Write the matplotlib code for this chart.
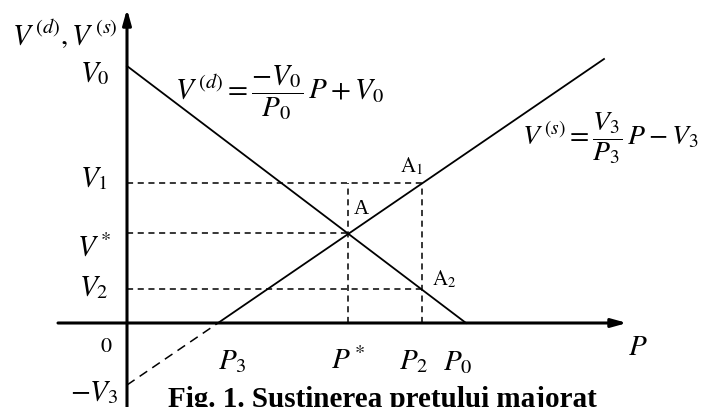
import matplotlib
matplotlib.use("Agg")
import matplotlib.pyplot as plt

plt.rcParams['mathtext.fontset'] = 'stix'
plt.rcParams['font.family'] = ['Liberation Serif', 'DejaVu Serif']

# values (arbitrary units)
P0, V0 = 339, 257          # demand intercepts
P3, V3 = 91, 62            # supply intercepts
P_end, V_end = 477, 264    # end of the supply line
P_star, V_star = 221, 90   # equilibrium A
P2 = 295                   # supported price
V1, V2 = 140, 34           # supply / demand at P2

fig = plt.figure(figsize=(7.05, 4.07), dpi=100)
ax = fig.add_axes([0, 0, 1, 1])
ax.set_xlim(-127, 578)
ax.set_ylim(-84, 323)
ax.axis('off')

# axes with arrows
ax.annotate('', xy=(500, 0), xytext=(-69, 0),
            arrowprops=dict(arrowstyle='-|>,head_length=0.9,head_width=0.25',
                            lw=2.2, color='black', shrinkA=0, shrinkB=0))
ax.annotate('', xy=(0, 314), xytext=(0, -90),
            arrowprops=dict(arrowstyle='-|>,head_length=0.9,head_width=0.25',
                            lw=2.2, color='black', shrinkA=0, shrinkB=0))

# demand and supply
ax.plot([0, P0], [V0, 0], color='black', lw=1.3)
ax.plot([P3, P_end], [0, V_end], color='black', lw=1.3)
ax.plot([0, P3], [-V3, 0], color='black', lw=1.1, dashes=(6, 4))

# guide lines
dash = dict(color='black', lw=1.1, dashes=(4, 3))
ax.plot([0, P2], [V1, V1], **dash)
ax.plot([0, P_star], [V_star, V_star], **dash)
ax.plot([0, P2], [V2, V2], **dash)
ax.plot([P_star, P_star], [0, V1], **dash)
ax.plot([P2, P2], [0, V1], **dash)

fs = 21
ax.text(-9, 289, r'$V^{\,(d)},V^{\,(s)}$', fontsize=fs, ha='right', va='center')
ax.text(-32, 249, r'$V_0$', fontsize=fs, ha='center', va='center')
ax.text(-33, 144, r'$V_1$', fontsize=fs, ha='center', va='center')
ax.text(-33, 75, r'$V^*$', fontsize=fs, ha='center', va='center')
ax.text(-33, 35, r'$V_2$', fontsize=fs, ha='center', va='center')
ax.text(-21, -25, r'$0$', fontsize=16, ha='center', va='center')
ax.text(-33, -70, r'$-V_3$', fontsize=fs, ha='center', va='center')

ax.text(P3 + 14, -39, r'$P_3$', fontsize=fs, ha='center', va='center')
ax.text(P_star, -38, r'$P^*$', fontsize=fs, ha='center', va='center')
ax.text(P2 - 8, -39, r'$P_2$', fontsize=fs, ha='center', va='center')
ax.text(P0 - 8, -40, r'$P_0$', fontsize=fs, ha='center', va='center')
ax.text(511, -25, r'$P$', fontsize=fs, ha='center', va='center')

ax.text(48, 230, r'$V^{\,(d)}=\dfrac{-V_0}{P_0}\,P+V_0$', fontsize=fs,
        ha='left', va='center')
ax.text(395, 185, r'$V^{\,(s)}=\dfrac{V_3}{P_3}\,P-V_3$', fontsize=20,
        ha='left', va='center')

ax.text(P_star + 6, 113, 'A', fontsize=15, ha='left', va='center')
ax.text(P2 - 22, 157, r'$\mathrm{A}_1$', fontsize=15, ha='left', va='center')
ax.text(P2 + 10, 44, r'$\mathrm{A}_2$', fontsize=15, ha='left', va='center')

ax.text(41, -84, 'Fig. 1. Sustinerea pretului majorat', fontsize=21,
        fontweight='bold', ha='left', va='baseline')

fig.savefig('out.png', dpi=100)
